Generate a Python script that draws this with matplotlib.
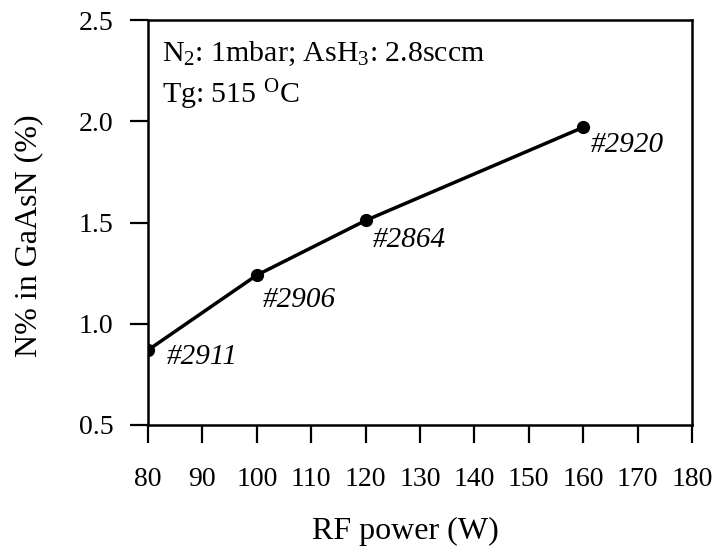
import matplotlib
matplotlib.use("Agg")
import matplotlib.pyplot as plt

# RF power vs nitrogen content in GaAsN
rf_power = [80, 100, 120, 160]
n_percent = [0.87, 1.24, 1.51, 1.97]
sample_ids = ["#2911", "#2906", "#2864", "#2920"]
x_ticks = [80, 90, 100, 110, 120, 130, 140, 150, 160, 170, 180]
y_ticks = [0.5, 1.0, 1.5, 2.0, 2.5]

plt.rcParams["font.family"] = ["Liberation Serif", "DejaVu Serif"]
plt.rcParams["mathtext.fontset"] = "custom"
plt.rcParams["mathtext.rm"] = "Liberation Serif"
plt.rcParams["mathtext.it"] = "Liberation Serif:italic"

fig = plt.figure(figsize=(7.18, 5.54), dpi=100)
ax = fig.add_axes([148 / 718, 1 - 425 / 554, (692 - 148) / 718, (425 - 20) / 554])

ax.plot(rf_power, n_percent, color="black", lw=2.5, marker="o", ms=8.5,
        solid_capstyle="round", zorder=3)

# sample labels beside each point (offsets in pixels)
offsets = [(19, -7), (6, -25), (7, -20), (8, -18)]
for x, y, lab, (dx, dy) in zip(rf_power, n_percent, sample_ids, offsets):
    ax.annotate(lab, (x, y), xytext=(dx, dy), textcoords="offset pixels",
                fontsize=21, style="italic", ha="left", va="center")

ax.text(0.026, 0.899, r"N$_2$: 1mbar; AsH$_3$: 2.8sccm", transform=ax.transAxes,
        fontsize=21.5, ha="left", va="baseline")
ax.text(0.026, 0.795, r"Tg: 515 $^{\rm O}$C", transform=ax.transAxes,
        fontsize=21.5, ha="left", va="baseline")

ax.set_xlim(80, 180)
ax.set_ylim(0.5, 2.5)
ax.set_xticks(x_ticks)
ax.set_yticks(y_ticks)
ax.set_yticklabels([f"{v:.1f}" for v in y_ticks])
ax.tick_params(direction="out", length=13, width=1.6, labelsize=20)
ax.tick_params(axis="y", pad=12)
ax.tick_params(axis="x", pad=17)
for s in ax.spines.values():
    s.set_linewidth(1.8)

ax.set_xlabel("RF power (W)", fontsize=23, va="center")
ax.set_ylabel("N% in GaAsN (%)", fontsize=23, va="center")
ax.xaxis.set_label_coords((405 - 148) / 544, (425 - 531) / 405)
ax.yaxis.set_label_coords((29 - 148) / 544, (425 - 236) / 405)

fig.savefig("out.png", dpi=100)
